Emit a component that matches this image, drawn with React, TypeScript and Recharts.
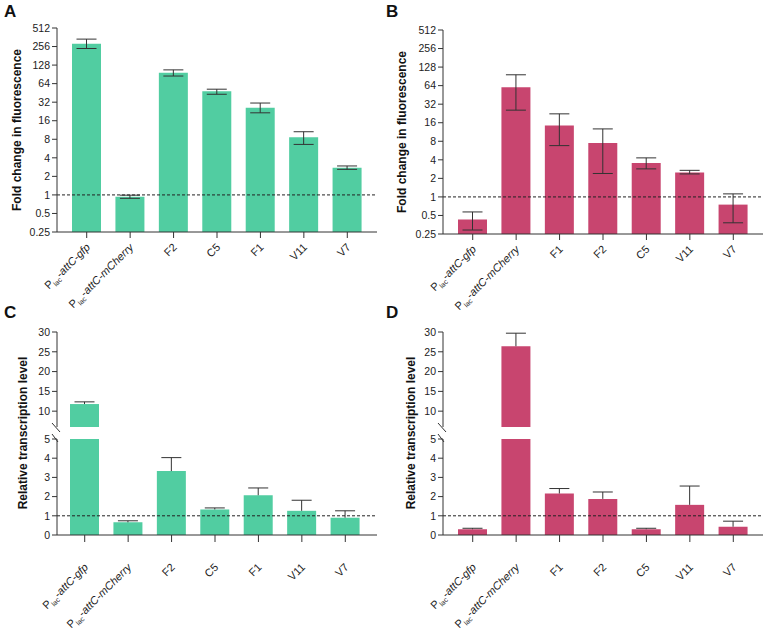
import React from 'react';
import { BarChart, Bar, XAxis, YAxis, ErrorBar, ReferenceLine } from 'recharts';

const FONT = '"Liberation Sans", Arial, sans-serif';
const GREEN = '#51CDA1';
const PINK = '#C8456F';
const INK = '#333';

// panel A: fold change in fluorescence (green)
const catsA = ['P_lac-attC-gfp', 'P_lac-attC-mCherry', 'F2', 'C5', 'F1', 'V11', 'V7'];
const foldA = [283, 0.93, 96, 48, 26, 8.6, 2.75];
const foldALow = [238, 0.88, 85, 43, 21.5, 6.6, 2.6];
const foldAHigh = [338, 0.99, 107, 52, 31, 10.6, 2.95];

// panel B: fold change in fluorescence (pink)
const catsB = ['P_lac-attC-gfp', 'P_lac-attC-mCherry', 'F1', 'F2', 'C5', 'V11', 'V7'];
const foldB = [0.43, 60, 14.4, 7.5, 3.55, 2.5, 0.75];
const foldBLow = [0.29, 25.6, 6.8, 2.4, 2.85, 2.36, 0.38];
const foldBHigh = [0.57, 96, 22.3, 12.7, 4.3, 2.7, 1.12];

// panel C: relative transcription (green), same order as A
const transC = [11.8, 0.66, 3.33, 1.33, 2.07, 1.26, 0.9];
const transCHigh = [12.35, 0.74, 4.03, 1.41, 2.45, 1.81, 1.26];

// panel D: relative transcription (pink), same order as B
const transD = [0.3, 26.4, 2.16, 1.88, 0.3, 1.57, 0.43];
const transDHigh = [0.35, 29.7, 2.42, 2.24, 0.35, 2.55, 0.72];

const logTicks = [0.25, 0.5, 1, 2, 4, 8, 16, 32, 64, 128, 256, 512];
const upperTicks = [10, 15, 20, 25, 30];
const lowerTicks = [0, 1, 2, 3, 4, 5];

const tickStyle = { fontSize: 10.5, fill: '#222', fontFamily: FONT };

const CatTick = (props: any) => {
  const { x, y, payload, shift = 0 } = props;
  const v: string = payload.value;
  const isP = v.startsWith('P_lac-');
  return (
    <g transform={`translate(${x + 4},${y + 8 + shift})`}>
      <text transform="rotate(-45)" textAnchor="end" fontSize={11} fill="#222" fontFamily={FONT}>
        {isP ? (
          <>
            <tspan>P</tspan>
            <tspan fontSize={7} dy={3}>lac</tspan>
            <tspan dy={-3}>-</tspan>
            <tspan fontStyle="italic">{v.slice(6)}</tspan>
          </>
        ) : (
          v
        )}
      </text>
    </g>
  );
};

// upper half error bar only (stacked on top of the mean)
const UpErr = (props: any) => {
  const { x, y, width, height } = props;
  if (height == null || isNaN(y) || isNaN(height) || height <= 0.5) return null;
  const cx = x + width / 2;
  return (
    <g stroke={INK} strokeWidth={1}>
      <line x1={cx} x2={cx} y1={y + height} y2={y} />
      <line x1={cx - 10} x2={cx + 10} y1={y} y2={y} />
    </g>
  );
};

const FoldPanel = ({ cats, mean, low, high, color, left, top, yw, mright }: any) => {
  const data = cats.map((c: string, i: number) => ({
    name: c,
    mean: mean[i],
    err: [mean[i] - low[i], high[i] - mean[i]],
  }));
  return (
    <div style={{ position: 'absolute', left, top: 0 }}>
      <BarChart width={382} height={top + 302} data={data} margin={{ top, right: mright, left: 0, bottom: 0 }}>
        <XAxis
          dataKey="name"
          interval={0}
          height={98}
          padding={{ left: 8, right: 8 }}
          tick={<CatTick />}
          tickSize={6}
          stroke={INK}
        />
        <YAxis
          type="number"
          scale="log"
          domain={[0.25, 512]}
          ticks={logTicks}
          interval={0}
          width={yw}
          tick={tickStyle}
          tickSize={5}
          stroke={INK}
          allowDataOverflow
        />
        <Bar dataKey="mean" fill={color} barSize={29} isAnimationActive={false}>
          <ErrorBar dataKey="err" width={10} stroke={INK} strokeWidth={1} direction="y" />
        </Bar>
        <ReferenceLine y={1} stroke="#222" strokeDasharray="3 2" />
      </BarChart>
    </div>
  );
};

const TransPanel = ({ cats, mean, high, color, left, yw, mright, pad }: any) => {
  const data = cats.map((c: string, i: number) => ({
    name: c,
    mean: mean[i],
    up: high[i] - mean[i],
  }));
  const bars = [
    <Bar key="m" dataKey="mean" stackId="s" fill={color} barSize={29} isAnimationActive={false} />,
    <Bar key="e" dataKey="up" stackId="s" shape={<UpErr />} isAnimationActive={false} />,
  ];
  return (
    <>
      <div style={{ position: 'absolute', left, top: 322 }}>
        <BarChart width={382} height={105} data={data} margin={{ top: 10, right: mright, left: 0, bottom: 0 }}>
          <XAxis dataKey="name" hide padding={pad} />
          <YAxis
            type="number"
            domain={[6, 30]}
            ticks={upperTicks}
            interval={0}
            width={yw}
            tick={tickStyle}
            tickSize={5}
            stroke={INK}
            allowDataOverflow
          />
          {bars}
        </BarChart>
      </div>
      <div style={{ position: 'absolute', left, top: 429 }}>
        <BarChart width={382} height={200} data={data} margin={{ top: 10, right: mright, left: 0, bottom: 0 }}>
          <XAxis
            dataKey="name"
            interval={0}
            height={94}
            padding={pad}
            tick={<CatTick shift={16} />}
            tickSize={7}
            stroke={INK}
          />
          <YAxis
            type="number"
            domain={[0, 5]}
            ticks={lowerTicks}
            interval={0}
            width={yw}
            tick={tickStyle}
            tickSize={5}
            stroke={INK}
            allowDataOverflow
          />
          {bars}
          <ReferenceLine y={1} stroke="#222" strokeDasharray="3 2" />
        </BarChart>
      </div>
    </>
  );
};

const Break = ({ x }: { x: number }) => (
  <g stroke={INK} strokeWidth={1}>
    <line x1={x - 5} y1={423} x2={x + 3} y2={432} />
    <line x1={x - 5} y1={434} x2={x + 1} y2={442} />
  </g>
);

export default function App() {
  return (
    <div style={{ position: 'relative', width: 764, height: 629, background: '#fff', fontFamily: FONT }}>
      <style>{'body{margin:0}'}</style>
      <FoldPanel cats={catsA} mean={foldA} low={foldALow} high={foldAHigh} color={GREEN} left={0} top={28} yw={57} mright={5} />
      <FoldPanel cats={catsB} mean={foldB} low={foldBLow} high={foldBHigh} color={PINK} left={382} top={30} yw={61} mright={1} />
      <TransPanel cats={catsA} mean={transC} high={transCHigh} color={GREEN} left={0} yw={57} mright={5} pad={{ left: 6, right: 10 }} />
      <TransPanel cats={catsB} mean={transD} high={transDHigh} color={PINK} left={382} yw={61} mright={1} pad={{ left: 8, right: 8 }} />
      <svg width={764} height={629} style={{ position: 'absolute', left: 0, top: 0, pointerEvents: 'none' }}>
        <g fontFamily={FONT} fontWeight="bold" fill="#111">
          <text x={4} y={17} fontSize={17}>A</text>
          <text x={386} y={17} fontSize={17}>B</text>
          <text x={4} y={318} fontSize={17}>C</text>
          <text x={386} y={318} fontSize={17}>D</text>
          <text transform="translate(21,130) rotate(-90)" textAnchor="middle" fontSize={12}>Fold change in fluorescence</text>
          <text transform="translate(406,132) rotate(-90)" textAnchor="middle" fontSize={12}>Fold change in fluorescence</text>
          <text transform="translate(27,433) rotate(-90)" textAnchor="middle" fontSize={12}>Relative transcription level</text>
          <text transform="translate(415,433) rotate(-90)" textAnchor="middle" fontSize={12}>Relative transcription level</text>
        </g>
        <Break x={57} />
        <Break x={443} />
      </svg>
    </div>
  );
}
